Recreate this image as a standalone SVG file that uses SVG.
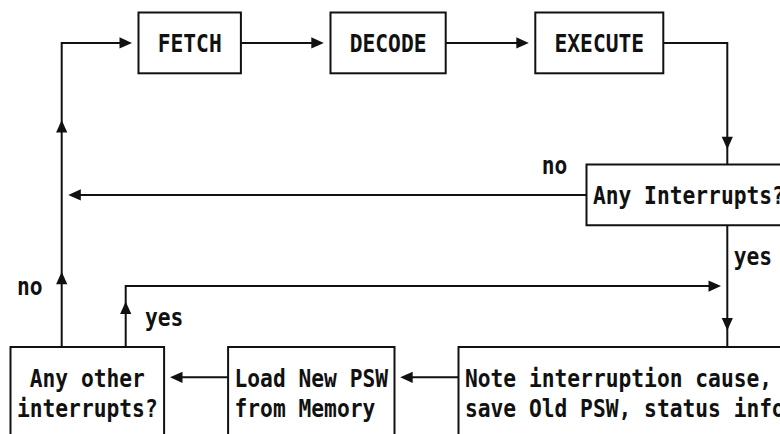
<svg xmlns="http://www.w3.org/2000/svg" width="780" height="434" viewBox="0 0 780 434">
<style>
.box{fill:none;stroke:#111;stroke-width:2}
.ln{fill:none;stroke:#111;stroke-width:2}
.ah{fill:#111}
text{font-family:"DejaVu Sans Mono","Liberation Mono",monospace;font-weight:bold;font-size:24px;fill:#111}
</style>
<defs>
<path id="ar" d="M0,0 L-12.5,-5.6 L-12.5,5.6 Z"/>
</defs>
<rect width="780" height="434" fill="#fff"/>

<g id="fetch">
<rect class="box" x="138.5" y="12.5" width="102.4" height="60.8"/>
<text x="157.7" y="52.2" textLength="64" lengthAdjust="spacingAndGlyphs">FETCH</text>
</g>
<g id="decode">
<rect class="box" x="330.5" y="12.5" width="115.2" height="60.8"/>
<text x="349.7" y="52.2" textLength="76.8" lengthAdjust="spacingAndGlyphs">DECODE</text>
</g>
<g id="execute">
<rect class="box" x="535.3" y="12.5" width="128" height="60.8"/>
<text x="554.5" y="52.2" textLength="89.6" lengthAdjust="spacingAndGlyphs">EXECUTE</text>
</g>
<g id="any-interrupts">
<path class="box" d="M792,164.5 H586.5 V225.3 H792"/>
<text x="592.9" y="204.2" textLength="192" lengthAdjust="spacingAndGlyphs">Any Interrupts?</text>
</g>
<g id="any-other">
<path class="box" d="M10.5,440 V346.9 H164.1 V440"/>
<text x="29.7" y="386.6" textLength="115.2" lengthAdjust="spacingAndGlyphs">Any other</text>
<text x="16.9" y="417" textLength="140.8" lengthAdjust="spacingAndGlyphs">interrupts?</text>
</g>
<g id="load-psw">
<path class="box" d="M228.1,440 V346.9 H394.5 V440"/>
<text x="234.5" y="386.6" textLength="153.6" lengthAdjust="spacingAndGlyphs">Load New PSW</text>
<text x="234.5" y="417" textLength="140.8" lengthAdjust="spacingAndGlyphs">from Memory</text>
</g>
<g id="note-cause">
<path class="box" d="M792,346.9 H458.5 V440"/>
<text x="464.9" y="386.6" textLength="307.2" lengthAdjust="spacingAndGlyphs">Note interruption cause,</text>
<text x="464.9" y="417" textLength="320" lengthAdjust="spacingAndGlyphs">save Old PSW, status info</text>
</g>

<g id="connectors">
<path class="ln" d="M61.7,346.9 V42.9 H121"/>
<use href="#ar" class="ah" transform="translate(132,42.9)"/>
<use href="#ar" class="ah" transform="translate(61.7,120) rotate(-90)"/>
<use href="#ar" class="ah" transform="translate(61.7,271.7) rotate(-90)"/>

<path class="ln" d="M240.9,42.9 H313"/>
<use href="#ar" class="ah" transform="translate(323.8,42.9)"/>

<path class="ln" d="M445.7,42.9 H518"/>
<use href="#ar" class="ah" transform="translate(528.8,42.9)"/>

<path class="ln" d="M663.3,42.9 H727.3 V164.5"/>
<use href="#ar" class="ah" transform="translate(727.3,149.3) rotate(90)"/>

<path class="ln" d="M586.5,194.9 H79"/>
<use href="#ar" class="ah" transform="translate(68.3,194.9) rotate(180)"/>

<path class="ln" d="M727.3,225.3 V346.9"/>
<use href="#ar" class="ah" transform="translate(727.3,330.5) rotate(90)"/>

<path class="ln" d="M125.7,346.9 V286.1 H710"/>
<use href="#ar" class="ah" transform="translate(721,286.1)"/>
<use href="#ar" class="ah" transform="translate(125.7,301.5) rotate(-90)"/>

<path class="ln" d="M228.1,377.3 H181"/>
<use href="#ar" class="ah" transform="translate(170,377.3) rotate(180)"/>

<path class="ln" d="M458.5,377.3 H411"/>
<use href="#ar" class="ah" transform="translate(400.2,377.3) rotate(180)"/>
</g>

<g id="labels">
<text x="541.7" y="173.8" textLength="25.6" lengthAdjust="spacingAndGlyphs">no</text>
<text x="16.9" y="295.4" textLength="25.6" lengthAdjust="spacingAndGlyphs">no</text>
<text x="733.7" y="264.8" textLength="38.4" lengthAdjust="spacingAndGlyphs">yes</text>
<text x="144.9" y="325.6" textLength="38.4" lengthAdjust="spacingAndGlyphs">yes</text>
</g>
</svg>
